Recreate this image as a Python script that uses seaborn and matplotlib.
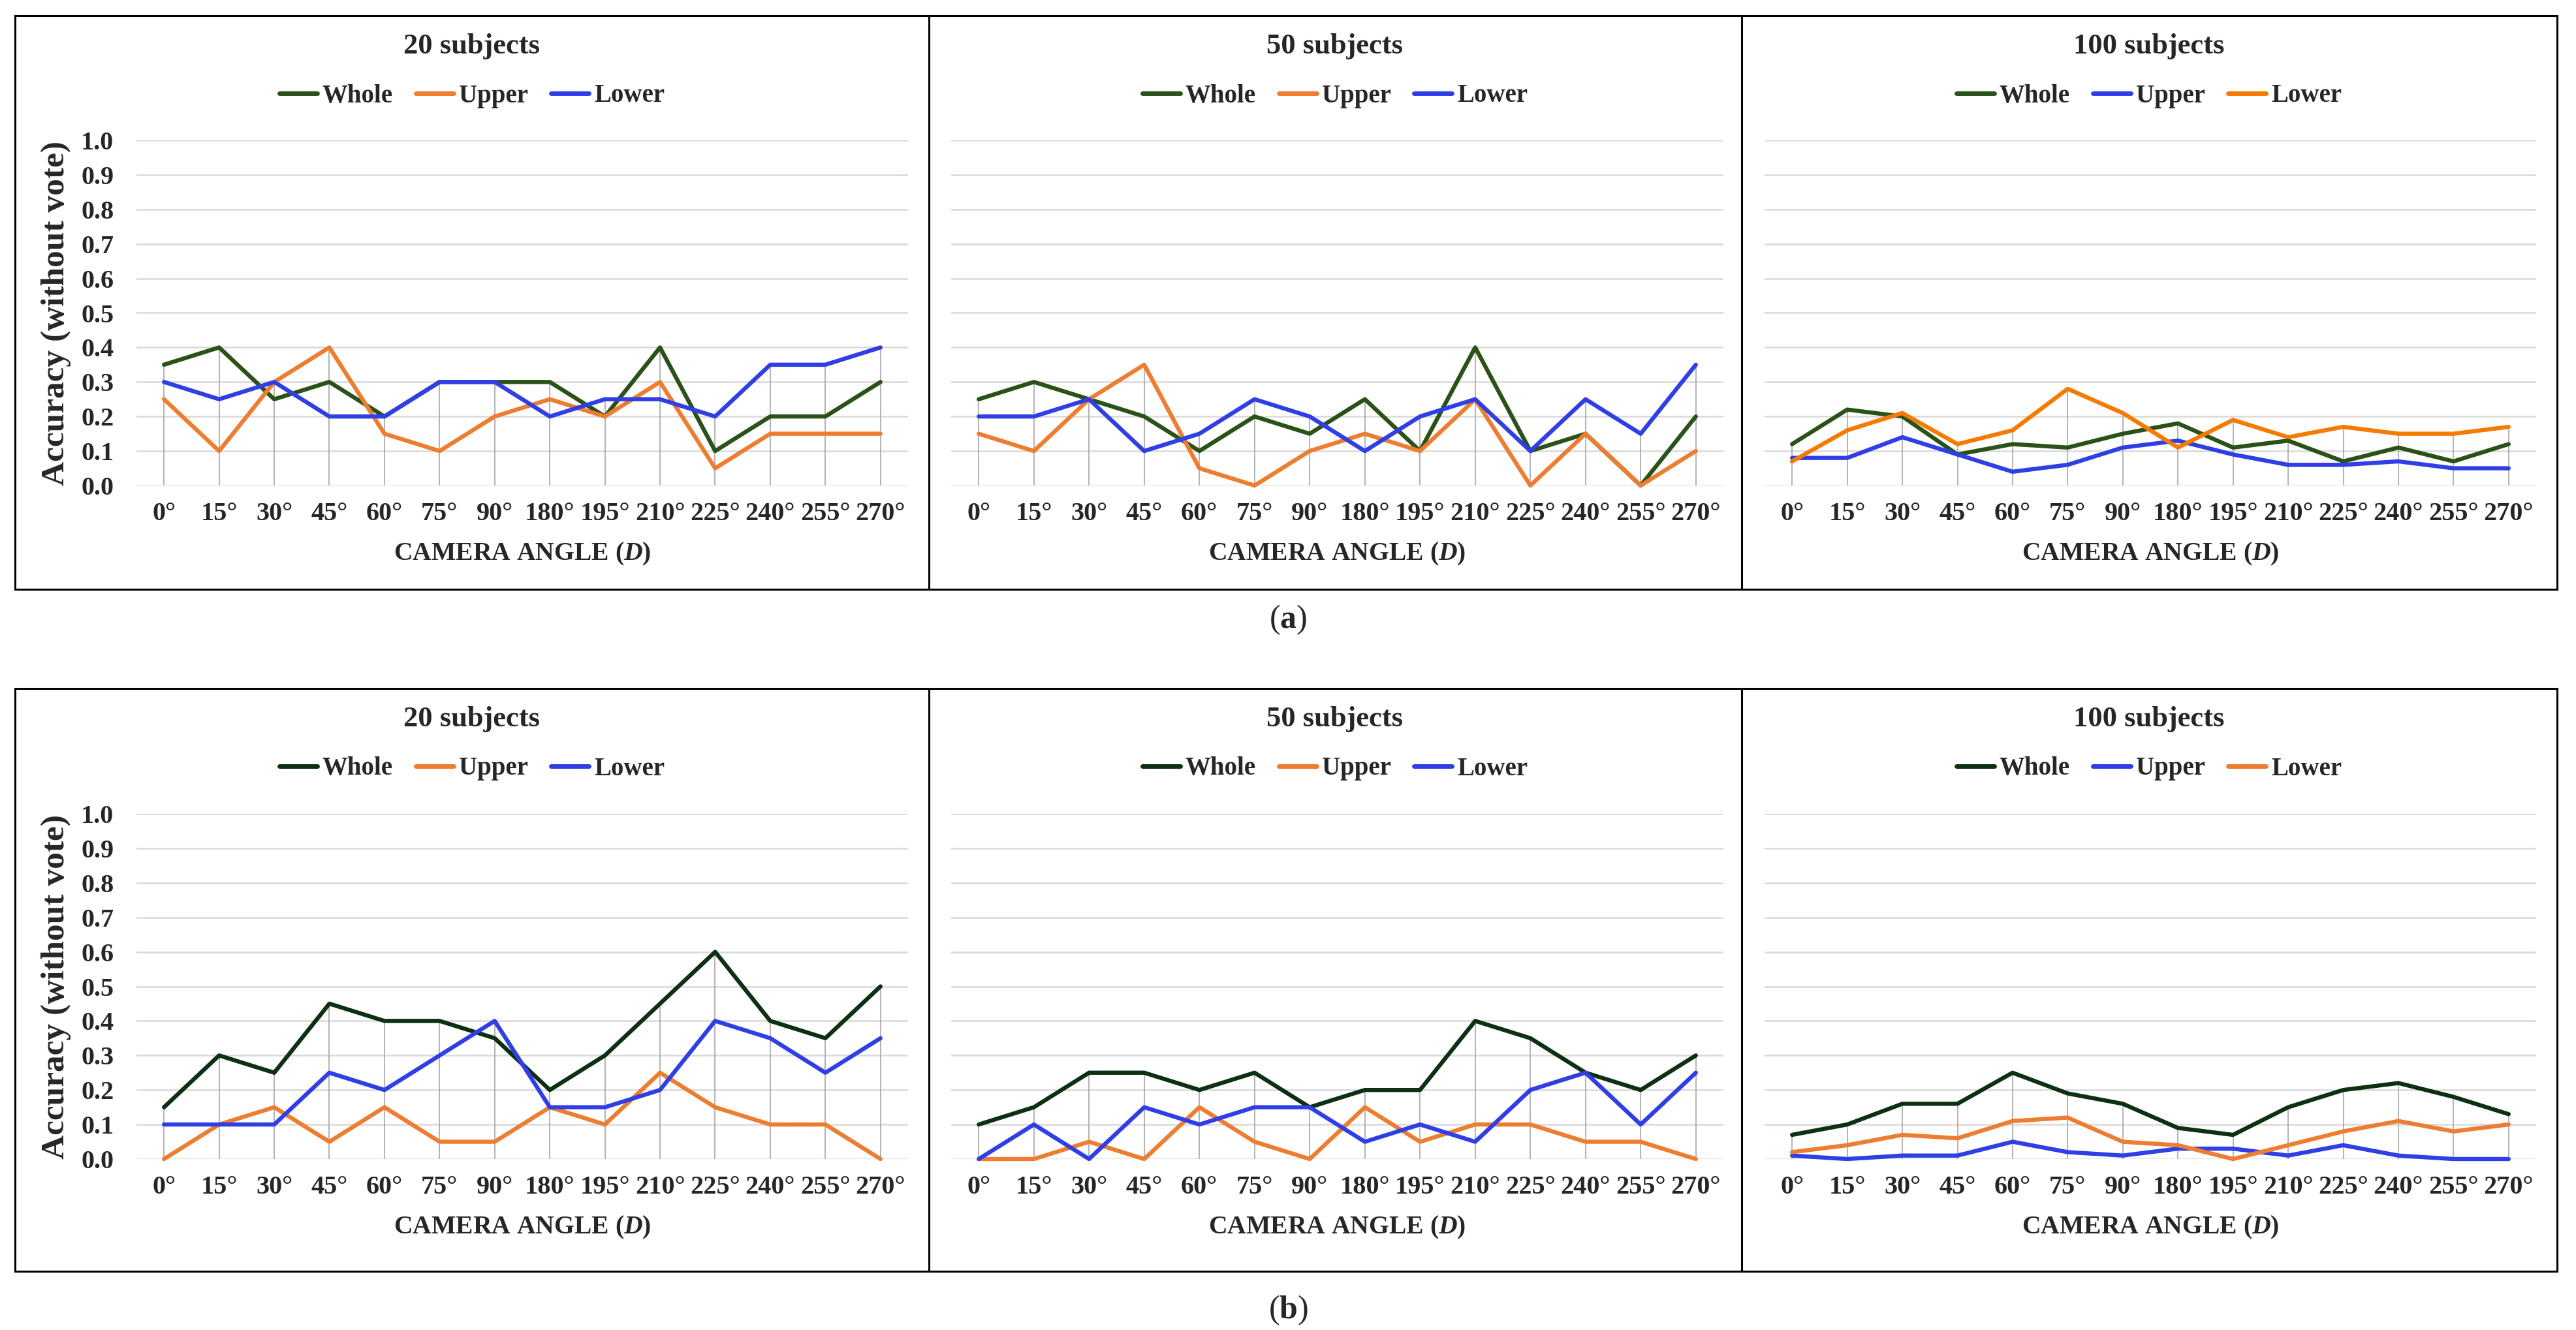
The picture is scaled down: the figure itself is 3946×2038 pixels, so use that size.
import numpy as np
import pandas as pd
import matplotlib
matplotlib.use("Agg")
import matplotlib.pyplot as plt
import seaborn as sns
from matplotlib.patches import Rectangle
from matplotlib.lines import Line2D

####################################
# data
####################################

angles = ['0°', '15°', '30°', '45°', '60°', '75°', '90°',
          '180°', '195°', '210°', '225°', '240°', '255°', '270°']
yticks = [0.0, 0.1, 0.2, 0.3, 0.4, 0.5, 0.6, 0.7, 0.8, 0.9, 1.0]
titles = ['20 subjects', '50 subjects', '100 subjects']

# (a) top row
a20_whole = [0.35, 0.40, 0.25, 0.30, 0.20, 0.30, 0.30, 0.30, 0.20, 0.40, 0.10, 0.20, 0.20, 0.30]
a20_upper = [0.25, 0.10, 0.30, 0.40, 0.15, 0.10, 0.20, 0.25, 0.20, 0.30, 0.05, 0.15, 0.15, 0.15]
a20_lower = [0.30, 0.25, 0.30, 0.20, 0.20, 0.30, 0.30, 0.20, 0.25, 0.25, 0.20, 0.35, 0.35, 0.40]

a50_whole = [0.25, 0.30, 0.25, 0.20, 0.10, 0.20, 0.15, 0.25, 0.10, 0.40, 0.10, 0.15, 0.00, 0.20]
a50_upper = [0.15, 0.10, 0.25, 0.35, 0.05, 0.00, 0.10, 0.15, 0.10, 0.25, 0.00, 0.15, 0.00, 0.10]
a50_lower = [0.20, 0.20, 0.25, 0.10, 0.15, 0.25, 0.20, 0.10, 0.20, 0.25, 0.10, 0.25, 0.15, 0.35]

a100_whole = [0.12, 0.22, 0.20, 0.09, 0.12, 0.11, 0.15, 0.18, 0.11, 0.13, 0.07, 0.11, 0.07, 0.12]
a100_upper = [0.08, 0.08, 0.14, 0.09, 0.04, 0.06, 0.11, 0.13, 0.09, 0.06, 0.06, 0.07, 0.05, 0.05]
a100_lower = [0.07, 0.16, 0.21, 0.12, 0.16, 0.28, 0.21, 0.11, 0.19, 0.14, 0.17, 0.15, 0.15, 0.17]

# (b) bottom row
b20_whole = [0.15, 0.30, 0.25, 0.45, 0.40, 0.40, 0.35, 0.20, 0.30, 0.45, 0.60, 0.40, 0.35, 0.50]
b20_upper = [0.00, 0.10, 0.15, 0.05, 0.15, 0.05, 0.05, 0.15, 0.10, 0.25, 0.15, 0.10, 0.10, 0.00]
b20_lower = [0.10, 0.10, 0.10, 0.25, 0.20, 0.30, 0.40, 0.15, 0.15, 0.20, 0.40, 0.35, 0.25, 0.35]

b50_whole = [0.10, 0.15, 0.25, 0.25, 0.20, 0.25, 0.15, 0.20, 0.20, 0.40, 0.35, 0.25, 0.20, 0.30]
b50_upper = [0.00, 0.00, 0.05, 0.00, 0.15, 0.05, 0.00, 0.15, 0.05, 0.10, 0.10, 0.05, 0.05, 0.00]
b50_lower = [0.00, 0.10, 0.00, 0.15, 0.10, 0.15, 0.15, 0.05, 0.10, 0.05, 0.20, 0.25, 0.10, 0.25]

b100_whole = [0.07, 0.10, 0.16, 0.16, 0.25, 0.19, 0.16, 0.09, 0.07, 0.15, 0.20, 0.22, 0.18, 0.13]
b100_upper = [0.01, 0.00, 0.01, 0.01, 0.05, 0.02, 0.01, 0.03, 0.03, 0.01, 0.04, 0.01, 0.00, 0.00]
b100_lower = [0.02, 0.04, 0.07, 0.06, 0.11, 0.12, 0.05, 0.04, 0.00, 0.04, 0.08, 0.11, 0.08, 0.10]

####################################
# style
####################################

sns.set_style("white")
plt.rcParams['font.family'] = ['Liberation Serif', 'DejaVu Serif']
plt.rcParams['font.weight'] = 'bold'
plt.rcParams['mathtext.fontset'] = 'custom'
plt.rcParams['mathtext.rm'] = 'Liberation Serif'
plt.rcParams['mathtext.bf'] = 'Liberation Serif:bold'
plt.rcParams['mathtext.it'] = 'Liberation Serif:bold:italic'

GREEN_A = '#2A5118'
GREEN_B = '#0E3012'
ORANGE = '#ED7D31'
ORANGE2 = '#F47A00'
BLUE = '#2F3FE5'

W, H = 3946, 2038
fig = plt.figure(figsize=(W / 100, H / 100), dpi=100)


def fx(px):
    return px / W


def fy(py):
    return 1 - py / H


panel_x = [(209, 1391), (1457, 2640), (2703, 3885)]
panel_cx = [723, 2045, 3292]
row_y = [(215, 744), (1247, 1776)]
box_y = [(24, 903), (1055, 1948)]
caption_y = [950, 2008]
box_x = (23, 3917)
dividers = [1423, 2668]

rows = [
    [(a20_whole, a20_upper, a20_lower, {'Whole': GREEN_A, 'Upper': ORANGE, 'Lower': BLUE}),
     (a50_whole, a50_upper, a50_lower, {'Whole': GREEN_A, 'Upper': ORANGE, 'Lower': BLUE}),
     (a100_whole, a100_upper, a100_lower, {'Whole': GREEN_A, 'Upper': BLUE, 'Lower': ORANGE2})],
    [(b20_whole, b20_upper, b20_lower, {'Whole': GREEN_B, 'Upper': ORANGE, 'Lower': BLUE}),
     (b50_whole, b50_upper, b50_lower, {'Whole': GREEN_B, 'Upper': ORANGE, 'Lower': BLUE}),
     (b100_whole, b100_upper, b100_lower, {'Whole': GREEN_B, 'Upper': BLUE, 'Lower': ORANGE})],
]
captions = ['a', 'b']

####################################
# drawing
####################################

for r, row in enumerate(rows):
    y1, y0 = row_y[r]
    bt, bb = box_y[r]

    # outer frame + dividers
    fig.add_artist(Rectangle((fx(box_x[0]), fy(bb)), fx(box_x[1] - box_x[0]), (bb - bt) / H,
                             transform=fig.transFigure, fill=False, lw=2.2, ec='black'))
    for d in dividers:
        fig.add_artist(Line2D([fx(d), fx(d)], [fy(bb), fy(bt)], transform=fig.transFigure,
                              lw=2.2, color='black'))

    for c, (whole, upper, lower, pal) in enumerate(row):
        x0, x1 = panel_x[c]
        ax = fig.add_axes([fx(x0), fy(y0), (x1 - x0) / W, (y0 - y1) / H])

        n = len(angles)
        df = pd.DataFrame({
            'pos': np.tile(np.arange(n), 3),
            'acc': np.concatenate([whole, upper, lower]),
            'part': np.repeat(['Whole', 'Upper', 'Lower'], n),
        })

        # drop lines from the highest series down to the axis
        top = df.groupby('pos')['acc'].max()
        ax.vlines(top.index, 0, top.values, color='#A6A6A6', lw=1.2, zorder=1.5)

        sns.lineplot(data=df, x='pos', y='acc', hue='part', hue_order=['Whole', 'Upper', 'Lower'],
                     palette=pal, lw=4.6, ax=ax, errorbar=None, clip_on=False, zorder=3,
                     solid_joinstyle='round', solid_capstyle='round')

        ax.set_xlim(-0.5, n - 0.5)
        ax.set_ylim(0, 1.0)
        ax.set_xticks(np.arange(n))
        ax.set_xticklabels(angles)
        ax.set_yticks(yticks)
        ax.yaxis.grid(True, color='#D9D9D9', lw=1.8, zorder=0)
        ax.xaxis.grid(False)
        for s in ax.spines.values():
            s.set_visible(False)
        ax.tick_params(axis='x', length=0, pad=18, labelsize=29)
        ax.tick_params(axis='y', length=0, pad=25, labelsize=29)
        if c == 0:
            ax.set_yticklabels([f'{v:.1f}' for v in yticks])
            ax.set_ylabel('Accuracy (without vote)', fontsize=37, fontweight='bold')
            ax.yaxis.set_label_coords(-0.085, 0.5)
        else:
            ax.set_yticklabels([])
            ax.set_ylabel('')

        ax.set_xlabel(r'CAMERA ANGLE ($D$)', fontsize=28.5, fontweight='bold')
        ax.xaxis.set_label_coords(0.5, -0.16)

        sns.move_legend(ax, 'center', bbox_to_anchor=(fx(panel_cx[c]), fy(bt + 123)),
                        bbox_transform=fig.transFigure, ncol=3, frameon=False, title=None,
                        handlelength=1.5, handletextpad=0.2, columnspacing=0.9, fontsize=28)
        for h in ax.get_legend().legend_handles:
            h.set_linewidth(5)

        fig.text(fx(panel_cx[c]), fy(bt + 47), titles[c], ha='center', va='center',
                 fontsize=32, fontweight='bold')

    fig.text(fx(1973), fy(caption_y[r]), '($\\mathbf{' + captions[r] + '}$)',
             ha='center', va='center', fontsize=36, fontweight='normal')

plt.savefig("out.png", dpi=100)
